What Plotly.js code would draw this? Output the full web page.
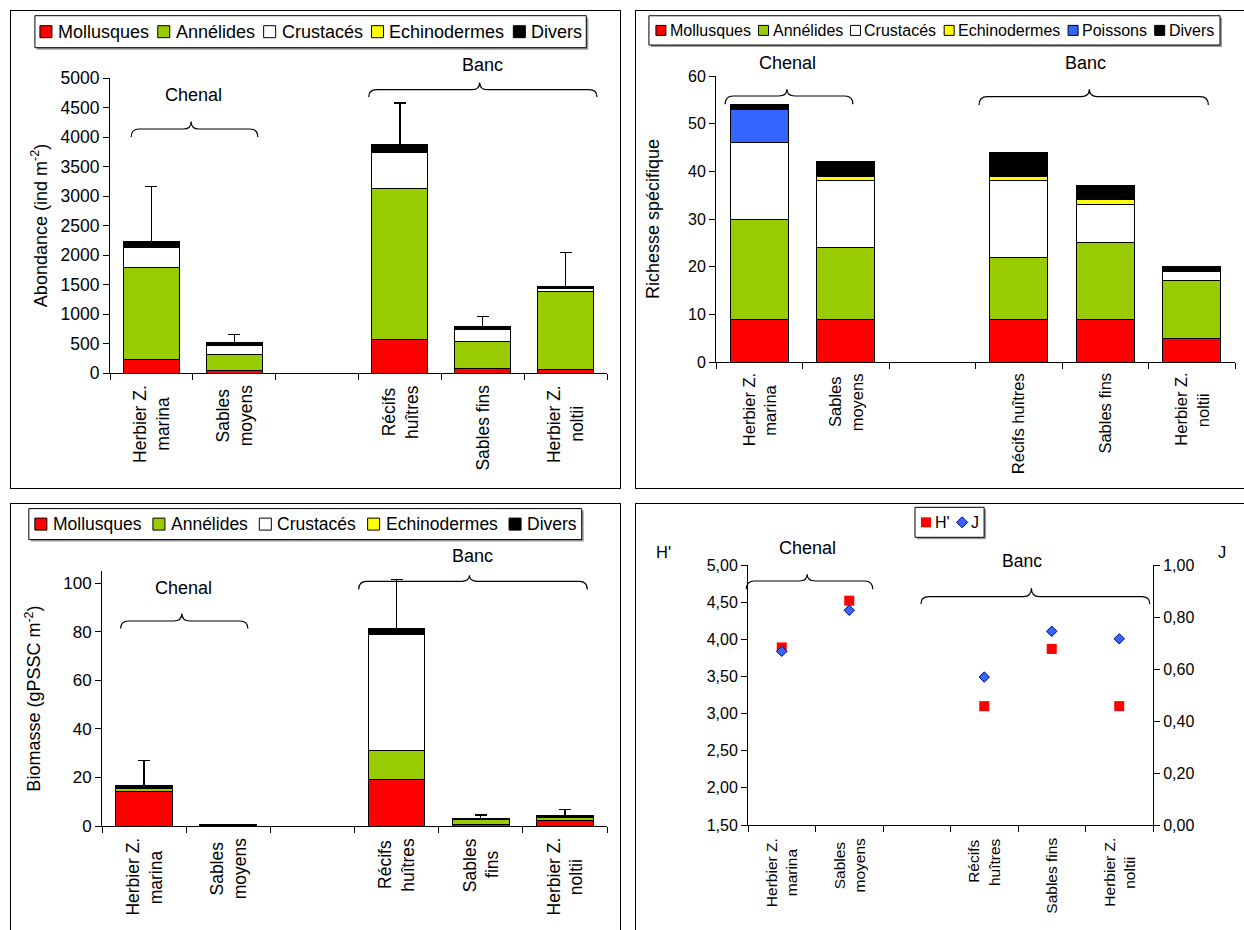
<!DOCTYPE html>
<html><head><meta charset="utf-8">
<script src="https://cdn.plot.ly/plotly-3.0.1.min.js"></script>
<style>
html,body{margin:0;padding:0;background:#fff;width:1244px;height:930px;overflow:hidden;}
body{position:relative;}
.plot{position:absolute;}
.frame{position:absolute;border:1px solid #000;box-sizing:border-box;pointer-events:none;}
</style></head><body>
<div class="frame" style="left:10px;top:10px;width:611px;height:479px"></div>
<div class="frame" style="left:635px;top:10px;width:700px;height:479px"></div>
<div class="frame" style="left:10px;top:503px;width:611px;height:500px"></div>
<div class="frame" style="left:635px;top:503px;width:700px;height:500px"></div>
<div id="pAb" class="plot" style="left:11px;top:11px;width:609px;height:477px"></div>
<div id="pRi" class="plot" style="left:636px;top:11px;width:620px;height:477px"></div>
<div id="pBi" class="plot" style="left:11px;top:504px;width:609px;height:440px"></div>
<div id="pDv" class="plot" style="left:636px;top:504px;width:620px;height:440px"></div>
<script>
// ---------------- DATA ----------------
const sitesAbund = ["Herbier Z.<br>marina", "Sables<br>moyens", " ", "Récifs<br>huîtres", "Sables fins", "Herbier Z.<br>noltii"];
const sitesRich  = ["Herbier Z.<br>marina", "Sables<br>moyens", " ", "Récifs huîtres", "Sables fins", "Herbier Z.<br>noltii"];
const sitesBiom  = ["Herbier Z.<br>marina", "Sables<br>moyens", " ", "Récifs<br>huîtres", "Sables<br>fins", "Herbier Z.<br>noltii"];
const sitesDiv   = ["Herbier Z.<br>marina", "Sables<br>moyens", " ", "Récifs<br>huîtres", "Sables fins", "Herbier Z.<br>noltii"];

const groupsMain = ["Mollusques", "Annélides", "Crustacés", "Echinodermes", "Divers"];
const groupsRich = ["Mollusques", "Annélides", "Crustacés", "Echinodermes", "Poissons", "Divers"];

// Abondance (ind m-2)
const abMollusques   = [225, 40, null, 565, 80, 55];
const abAnnelides    = [1560, 270, null, 2560, 455, 1320];
const abCrustaces    = [350, 150, null, 620, 210, 50];
const abEchinodermes = [0, 0, null, 0, 0, 0];
const abDivers       = [95, 50, null, 120, 45, 40];
const abErreur       = [925, 140, null, 712, 170, 575];

// Richesse spécifique
const riMollusques   = [9, 9, null, 9, 9, 5];
const riAnnelides    = [21, 15, null, 13, 16, 12];
const riCrustaces    = [16, 14, null, 16, 8, 2];
const riEchinodermes = [0, 1, null, 1, 1, 0];
const riPoissons     = [7, 0, null, 0, 0, 0];
const riDivers       = [1, 3, null, 5, 3, 1];

// Biomasse (gPSSC m-2)
const biMollusques   = [14.4, 0.1, null, 19.2, 0.8, 2.3];
const biAnnelides    = [1.0, 0.2, null, 12.0, 1.9, 1.2];
const biCrustaces    = [0.1, 0.05, null, 47.7, 0.1, 0.2];
const biEchinodermes = [0, 0, null, 0, 0, 0];
const biDivers       = [1.0, 0.15, null, 2.3, 0.1, 0.6];
const biErreur       = [10.5, 0.2, null, 20.2, 1.6, 2.5];

// Diversité
const divH = [3.89, 4.52, null, 3.10, 3.87, 3.10];
const divJ = [0.668, 0.826, null, 0.569, 0.745, 0.716];

// ---------------- STYLE ----------------
const FONT = '"Liberation Sans", Arial, sans-serif';
const COLORS = {"Mollusques":"#FF0000","Annélides":"#99CC00","Crustacés":"#FFFFFF","Echinodermes":"#FFFF00","Poissons":"#3366FF","Divers":"#000000"};

const ctx = document.createElement('canvas').getContext('2d');
function tw(text, size){ ctx.font = size + 'px "Liberation Sans"'; return ctx.measureText(text).width; }

function geom(g){
  const pw = g.W - g.l - g.r, ph = g.H - g.t - g.b;
  return Object.assign({}, g, {px: x => (x - g.l) / pw, py: y => (g.H - g.b - y) / ph});
}
function brace(G, x0, x1, xm, yTip, yBar, yEnd){
  const r = 8;
  const P = (x, y) => G.px(x).toFixed(5) + ',' + G.py(y).toFixed(5);
  const d = 'M' + P(x0, yEnd) + ' Q' + P(x0, yBar) + ' ' + P(x0 + r, yBar) +
            ' L' + P(xm - r, yBar) + ' Q' + P(xm, yBar) + ' ' + P(xm, yTip) +
            ' Q' + P(xm, yBar) + ' ' + P(xm + r, yBar) +
            ' L' + P(x1 - r, yBar) + ' Q' + P(x1, yBar) + ' ' + P(x1, yEnd);
  return {type:'path', xref:'paper', yref:'paper', path:d, line:{color:'#000', width:1.2}, layer:'above'};
}
function label(G, text, x, y, size, anchor){
  return {xref:'paper', yref:'paper', x:G.px(x), y:G.py(y), text:text, showarrow:false,
          xanchor:anchor || 'center', yanchor:'middle', borderpad:0,
          font:{size:size, color:'#000', family:FONT}};
}
// category labels under the axis: rotated, lines centred on each other like the original
function catLabels(sites, size, shift){
  const out = [];
  const lineH = 1.3 * size;
  sites.filter(s => s.trim() !== '').forEach(s => {
    const lines = s.split('<br>');
    const maxW = Math.max.apply(null, lines.map(t => tw(t, size)));
    lines.forEach((t, j) => out.push({
      xref:'x', yref:'paper', x:s, y:0, xanchor:'center', yanchor:'middle',
      xshift:(j - (lines.length - 1) / 2) * lineH, yshift:-(shift + maxW / 2),
      textangle:-90, text:t, showarrow:false, borderpad:0,
      font:{size:size, color:'#000', family:FONT}}));
  });
  return out;
}
function rect(G, x0, y0, x1, y1, fill, lc, lw){
  return {type:'rect', xref:'paper', yref:'paper', x0:G.px(x0), x1:G.px(x1), y0:G.py(y1), y1:G.py(y0),
          fillcolor:fill, line:{color:lc, width:lw}, layer:'above'};
}
// legend built from the series names
function legendBox(G, names, box, sq, g1, size, pad, markerFn){
  const shapes = [], anns = [];
  shapes.push(rect(G, box[0] + 2, box[2] + 2, box[1] + 2, box[3] + 2, '#9a9a9a', '#9a9a9a', 0));
  shapes.push(rect(G, box[0], box[2], box[1], box[3], '#FFFFFF', '#000', 1));
  const widths = names.map(n => tw(n, size));
  const used = widths.reduce((a, w) => a + w + sq + g1, 0);
  const avail = box[1] - box[0] - 2 * pad;
  const g2 = names.length > 1 ? (avail - used) / (names.length - 1) : 0;
  const cy = (box[2] + box[3]) / 2;
  let x = box[0] + pad;
  names.forEach((n, i) => {
    markerFn(n, i, x, cy, sq).forEach(s => shapes.push(s));
    anns.push(label(G, n, x + sq + g1, cy, size, 'left'));
    x += sq + g1 + widths[i] + g2;
  });
  return {shapes, anns};
}
function squareMarker(G){
  return (n, i, x, cy, sq) => [rect(G, x, cy - sq / 2, x + sq, cy + sq / 2, COLORS[n], '#000', 1)];
}
function yax(range, dtick, size, title, standoff, extra){
  const a = {range:range, dtick:dtick, tick0:range[0], showline:true, linecolor:'#000', linewidth:1,
    ticks:'outside', ticklen:6, tickwidth:1, tickcolor:'#000', showgrid:false, zeroline:false,
    tickfont:{size:size, color:'#000', family:FONT}, automargin:false, fixedrange:true};
  if (title) a.title = {text:title, font:{size:18, color:'#000', family:FONT}, standoff:standoff};
  return Object.assign(a, extra || {});
}
function xax(cats){
  return {type:'category', categoryorder:'array', categoryarray:cats, range:[-0.5, cats.length - 0.5],
    tickson:'boundaries', ticks:'outside', ticklen:6, tickwidth:1, tickcolor:'#000',
    showline:true, linecolor:'#000', linewidth:1, showgrid:false, zeroline:false,
    showticklabels:false, automargin:false, fixedrange:true};
}
function baseLayout(G){
  return {width:G.W, height:G.H, margin:{l:G.l, r:G.r, t:G.t, b:G.b, pad:0},
    barmode:'stack', bargap:0.325, showlegend:false,
    paper_bgcolor:'rgba(0,0,0,0)', plot_bgcolor:'rgba(0,0,0,0)',
    font:{family:FONT, color:'#000'}};
}
function barTrace(name, x, y, err){
  const t = {type:'bar', name:name, x:x, y:y, marker:{color:COLORS[name], line:{color:'#000', width:1}}, hoverinfo:'skip'};
  if (err) t.error_y = {type:'data', symmetric:false, array:err, color:'#000', thickness:1.2, width:6};
  return t;
}
const cfg = {staticPlot:true, displayModeBar:false};

// ---------------- ABONDANCE ----------------
(function(){
  const G = geom({W:609, H:477, l:98.5, r:13.3, t:67.3, b:114.7});
  const series = [abMollusques, abAnnelides, abCrustaces, abEchinodermes, abDivers];
  const traces = groupsMain.map((n, i) => barTrace(n, sitesAbund, series[i], n === 'Divers' ? abErreur : null));
  const lg = legendBox(G, groupsMain, [23.4, 575, 5, 37], 12, 5, 18, 5, squareMarker(G));
  const L = baseLayout(G);
  L.xaxis = xax(sitesAbund);
  L.yaxis = yax([0, 5000], 500, 17.5, 'Abondance (ind m<sup>-2</sup>)', 8);
  L.shapes = lg.shapes.concat([brace(G, 119.7, 246.3, 179.7, 110.7, 118.3, 126.3), brace(G, 357.3, 585.7, 468.3, 71.7, 79, 86.3)]);
  L.annotations = lg.anns.concat([label(G, 'Chenal', 182.3, 84, 18), label(G, 'Banc', 471.3, 54, 18)], catLabels(sitesAbund, 17.5, 12));
  Plotly.newPlot('pAb', traces, L, cfg);
})();

// ---------------- RICHESSE ----------------
(function(){
  const G = geom({W:620, H:477, l:79.8, r:21, t:65, b:125.7});
  const series = [riMollusques, riAnnelides, riCrustaces, riEchinodermes, riPoissons, riDivers];
  const traces = groupsRich.map((n, i) => barTrace(n, sitesRich, series[i], null));
  const lg = legendBox(G, groupsRich, [12.7, 584, 4.7, 34], 10, 3, 16, 7, squareMarker(G));
  const L = baseLayout(G);
  L.xaxis = xax(sitesRich);
  L.yaxis = yax([0, 60], 10, 16, 'Richesse spécifique', 23);
  L.shapes = lg.shapes.concat([brace(G, 89, 216.7, 150.7, 78.3, 85, 93.3), brace(G, 343, 572.3, 453.3, 78.3, 85.7, 94)]);
  L.annotations = lg.anns.concat([label(G, 'Chenal', 150.9, 52.3, 18), label(G, 'Banc', 449.7, 52.3, 18)], catLabels(sitesRich, 16.5, 11));
  Plotly.newPlot('pRi', traces, L, cfg);
})();

// ---------------- BIOMASSE ----------------
(function(){
  const G = geom({W:609, H:440, l:91, r:13.3, t:66.7, b:118.3});
  const series = [biMollusques, biAnnelides, biCrustaces, biEchinodermes, biDivers];
  const traces = groupsMain.map((n, i) => barTrace(n, sitesBiom, series[i], n === 'Divers' ? biErreur : null));
  const lg = legendBox(G, groupsMain, [17.9, 570.4, 4.3, 35.3], 12, 5, 17.5, 6, squareMarker(G));
  const L = baseLayout(G);
  L.xaxis = xax(sitesBiom);
  L.yaxis = yax([0, 105], 20, 17, 'Biomasse (gPSSC m<sup>-2</sup>)', 17, {tick0:0});
  L.shapes = lg.shapes.concat([brace(G, 109.6, 236.8, 170.8, 109.3, 116.7, 124.3), brace(G, 347.5, 576, 458.2, 71, 77, 85.3)]);
  L.annotations = lg.anns.concat([label(G, 'Chenal', 172, 83.3, 18), label(G, 'Banc', 461.3, 52, 18)], catLabels(sitesBiom, 17.5, 12));
  Plotly.newPlot('pBi', traces, L, cfg);
})();

// ---------------- DIVERSITE ----------------
(function(){
  const G = geom({W:620, H:440, l:112.2, r:102.8, t:61, b:119});
  const traces = [
    {type:'scatter', mode:'markers', name:"H'", x:sitesDiv, y:divH, yaxis:'y',
     marker:{symbol:'square', size:10, color:'#FF0000', line:{width:0}}, hoverinfo:'skip'},
    {type:'scatter', mode:'markers', name:'J', x:sitesDiv, y:divJ, yaxis:'y2',
     marker:{symbol:'diamond', size:8, color:'#3366FF', line:{color:'#000080', width:1}}, hoverinfo:'skip'}
  ];
  const markerFn = (n, i, x, cy, sq) => {
    if (i === 0) return [rect(G, x, cy - sq / 2, x + sq, cy + sq / 2, '#FF0000', '#FF0000', 0)];
    const h = sq / 2 + 0.5, cx = x + sq / 2;
    const P = (a, b) => G.px(a).toFixed(5) + ',' + G.py(b).toFixed(5);
    return [{type:'path', xref:'paper', yref:'paper', layer:'above', fillcolor:'#3366FF', line:{color:'#000080', width:1},
      path:'M' + P(cx, cy - h) + ' L' + P(cx + h, cy) + ' L' + P(cx, cy + h) + ' L' + P(cx - h, cy) + ' Z'}];
  };
  const lg = legendBox(G, traces.map(t => t.name), [279.2, 348.3, 3.3, 33.3], 10, 3, 16, 6, markerFn);
  const L = baseLayout(G);
  L.separators = ', ';
  L.xaxis = xax(sitesDiv);
  L.yaxis = yax([1.5, 5], 0.5, 16, null, 0, {tickformat:'.2f'});
  L.yaxis2 = yax([0, 1], 0.2, 16, null, 0, {tickformat:'.2f', overlaying:'y', side:'right', anchor:'x'});
  L.shapes = lg.shapes.concat([brace(G, 110.6, 236.9, 171.4, 70.3, 77, 85.3), brace(G, 285.1, 514, 395.6, 84.3, 92.7, 100)]);
  L.annotations = lg.anns.concat([label(G, 'Chenal', 171.8, 44.3, 18), label(G, 'Banc', 386.5, 57, 17.5),
    label(G, "H'", 27.3, 47.7, 16.5), label(G, 'J', 586.3, 47.7, 16.5)], catLabels(sitesDiv, 15.5, 13));
  Plotly.newPlot('pDv', traces, L, cfg);
})();
</script>
</body></html>
